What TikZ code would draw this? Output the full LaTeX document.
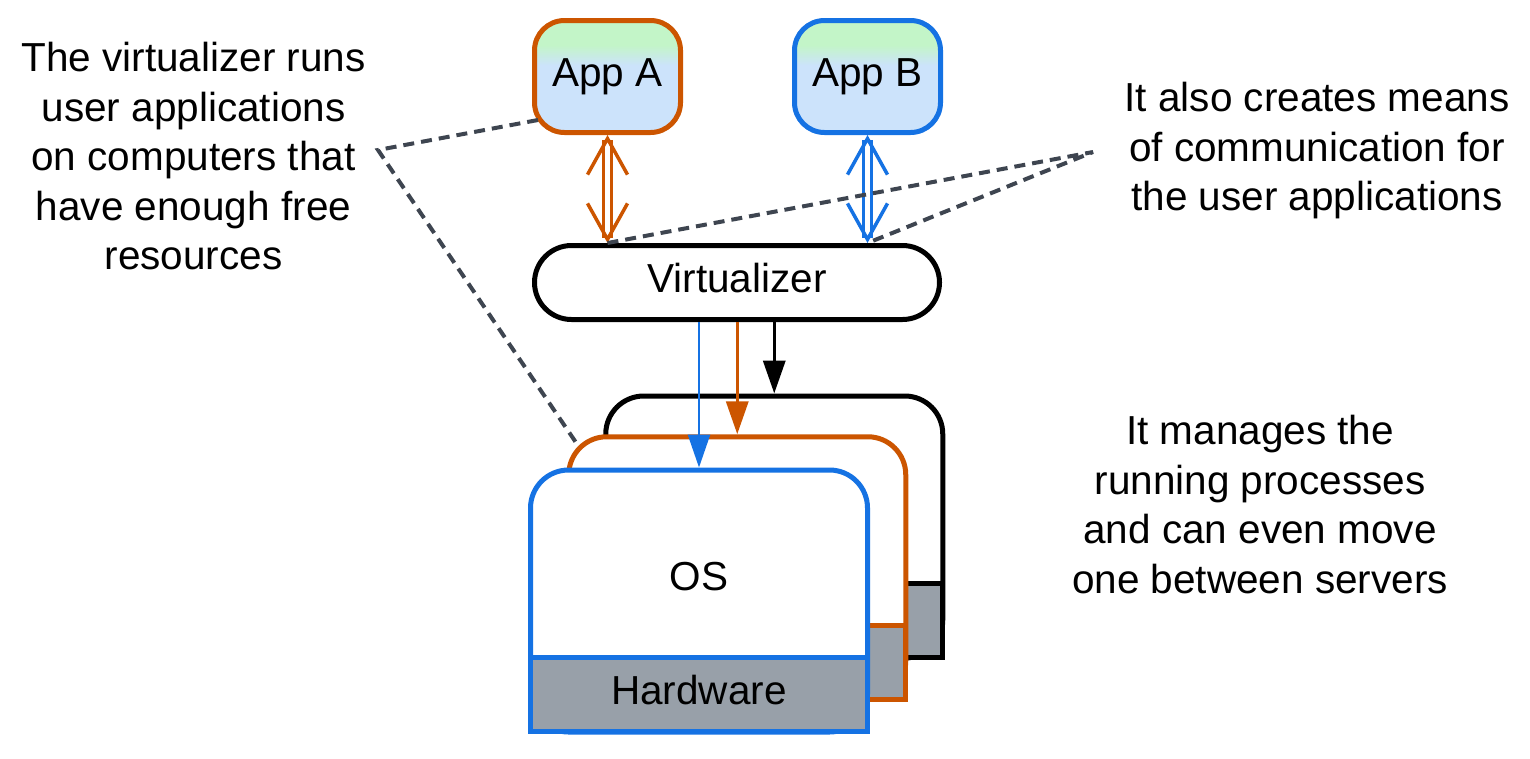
\documentclass[tikz,border=0pt]{standalone}
\usepackage{fontspec}
\setmainfont{Liberation Sans}
\usetikzlibrary{arrows.meta, positioning, calc}
\definecolor{virtOrange}{HTML}{CC5500}
\definecolor{virtBlue}{HTML}{1572E3}
\definecolor{virtDash}{HTML}{3E4550}
\definecolor{virtGray}{HTML}{98A0A9}
\definecolor{appGreen}{HTML}{C3F5C8}
\definecolor{appBlue}{HTML}{CCE3FB}
\pgfdeclareverticalshading{appfill}{100bp}{color(0bp)=(appBlue); color(25bp)=(appBlue);
    color(55bp)=(appBlue); color(64bp)=(appGreen); color(75bp)=(appGreen); color(100bp)=(appGreen)}

\begin{document}
\begin{tikzpicture}[
    x=1pt, y=-1pt,
    font=\fontsize{40.5}{49.5}\selectfont,
    app/.style={
        draw=#1,
        line width=5pt,
        rounded corners=30pt,
        shading=appfill,
        minimum width=146pt,
        minimum height=112pt,
        text height=29pt, text depth=8.5pt
    },
    core/.style={
        draw=black,
        line width=5pt,
        rounded corners=37pt,
        fill=white,
        minimum width=405pt,
        minimum height=74pt,
        text height=29pt, text depth=8.5pt
    },
    server/.style={
        draw=#1,
        line width=5pt,
        rounded corners=38pt,
        fill=white,
        minimum width=337pt,
        minimum height=262pt
    },
    hardware/.style={
        draw=#1,
        line width=5pt,
        fill=virtGray,
        minimum width=337pt,
        minimum height=74pt,
        text height=29pt, text depth=8.5pt
    },
    plain/.style={text height=29pt, text depth=8.5pt},
    note/.style={align=center, anchor=base},
    duplex/.style={
        draw=#1, double=white, double distance=4.5pt, line width=3pt,
        {Straight Barb[length=36pt, width=40pt, line width=3.5pt]}-{Straight Barb[length=36pt, width=40pt, line width=3.5pt]}
    },
    feed/.style={draw=#1, line width=3.5pt, -{Triangle[length=33pt, width=22pt]}},
    hint/.style={draw=virtDash, line width=4pt, dash pattern=on 11pt off 7pt},
]
\useasboundingbox (0,0) rectangle (1530,758);

% applications and the virtualizer
\node[app=virtOrange] (appA) at (607.5,76.5) {App A};
\node[app=virtBlue] (appB) at (867.5,76.5) {App B};
\node[core] (virt) at (737,282.5) {Virtualizer};

% stacked servers, back to front
\node[server=black] (osC) at (774.25,527) {};
\node[hardware=black] (hwC) at (774.25,620.5) {};
\node[server=virtOrange] (osB) at (737.25,567.75) {};
\node[hardware=virtOrange] (hwB) at (737.25,662) {};
\node[server=virtBlue] (osA) at (699,601) {};
\node[hardware=virtBlue] (hwA) at (699,694.5) {Hardware};
\node[plain] (osText) at (699,580.5) {OS};

\draw[duplex=virtOrange] (appA.south) -- (appA.south |- virt.north);
\draw[duplex=virtBlue] (appB.south) -- (appB.south |- virt.north);

\draw[feed=virtBlue, line width=2.5pt] (virt.south -| osA.north) -- (osA.north);
\draw[feed=virtOrange] (virt.south -| osB.north) -- (osB.north);
\draw[feed=black] (virt.south -| osC.north) -- (osC.north);

% notes (base = last line)
\node[note] (runsNote) at (193.5,269.5)
    {The virtualizer runs\\user applications\\on computers that\\have enough free\\resources};
\node[note] (commNote) at (1317,210.5)
    {It also creates means\\of communication for\\the user applications};
\node[note] (moveNote) at (1260,593)
    {It manages the\\running processes\\and can even move\\one between servers};

\coordinate (appAEdge) at (538,120);
\coordinate (runsJoin) at (378,150);
\coordinate (midEdge) at (577,444);
\coordinate (commJoin) at (1093,152);
\draw[hint] (appAEdge) -- (runsJoin) -- (midEdge);
\draw[hint] (appA.south |- virt.north) -- (commJoin) -- (appB.south |- virt.north);

\end{tikzpicture}
\end{document}
